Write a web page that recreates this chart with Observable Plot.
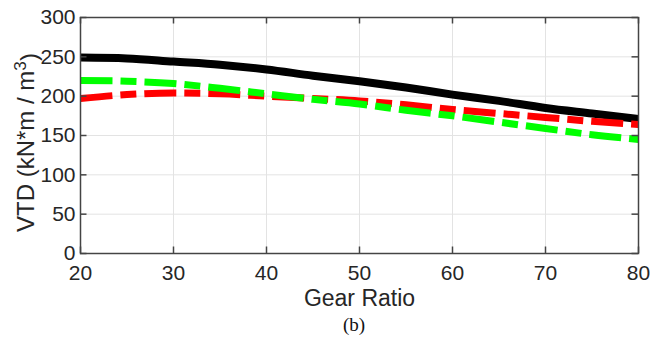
<!DOCTYPE html>
<html>
<head>
<meta charset="utf-8">
<script src="https://cdn.jsdelivr.net/npm/d3@7"></script>
<script src="https://cdn.jsdelivr.net/npm/@observablehq/plot@0.6"></script>
<style>
  html, body { margin: 0; padding: 0; background: #fff; }
  #wrap { position: relative; width: 650px; height: 338px; overflow: hidden; }
  #caption { position: absolute; top: 315px; left: 354px; transform: translateX(-50%);
    font-family: "Liberation Serif", "DejaVu Serif", serif; font-size: 19px; line-height: 20px; color: #111; white-space: nowrap; }
</style>
</head>
<body>
<div id="wrap"><div id="chart"></div><div id="caption">(b)</div></div>
<script>
// Data
const gearRatio = [20, 25, 30, 35, 40, 45, 50, 55, 60, 65, 70, 75, 80];
const vtdBlack  = [249, 248, 244, 240, 234, 226, 219, 211, 202, 194, 185, 178, 171];
const vtdRed    = [197, 202, 204, 203, 200, 197, 194, 189, 183, 178, 173, 168, 164];
const vtdGreen  = [220, 219, 216, 210, 203, 196, 190, 182, 175, 167, 159, 151, 145];
const xTicks = [20, 30, 40, 50, 60, 70, 80];
const yTicks = [0, 50, 100, 150, 200, 250, 300];
const xLabel = "Gear Ratio";
const yLabel = "VTD (kN*m / m3)";

const rows = (ys) => gearRatio.map((x, i) => ({x, y: ys[i]}));
const W = 650, H = 315;
const mL = 80, mR = 12, mT = 17, mB = H - 253;
const innerH = H - mT - mB, innerW = W - mL - mR;
const tickLen = 6.5;
const txt = "#262626";

const chart = Plot.plot({
  width: W, height: H,
  marginLeft: mL, marginRight: mR, marginTop: mT, marginBottom: mB,
  style: {fontFamily: "'Liberation Sans', Arial, sans-serif", background: "#fff", color: txt, overflow: "visible"},
  x: {domain: [20, 80]},
  y: {domain: [0, 300]},
  marks: [
    Plot.gridX(xTicks, {stroke: "#e3e3e3", strokeOpacity: 1, strokeWidth: 1}),
    Plot.gridY(yTicks, {stroke: "#e3e3e3", strokeOpacity: 1, strokeWidth: 1}),
    Plot.line(rows(vtdBlack), {x: "x", y: "y", stroke: "#000", strokeWidth: 8, curve: "monotone-x", strokeLinecap: "butt"}),
    Plot.line(rows(vtdRed), {x: "x", y: "y", stroke: "#ff0000", strokeWidth: 7, curve: "monotone-x", strokeDasharray: "32 8 16 8", strokeLinecap: "butt"}),
    Plot.line(rows(vtdGreen), {x: "x", y: "y", stroke: "#00ff00", strokeWidth: 7, curve: "monotone-x", strokeDasharray: "32 8 16 8", strokeLinecap: "butt"}),
    // inward ticks (MATLAB style) on all four sides
    Plot.tickX(xTicks, {x: d => d, stroke: "#444", strokeWidth: 1.5, insetTop: innerH - tickLen}),
    Plot.tickX(xTicks, {x: d => d, stroke: "#444", strokeWidth: 1.5, insetBottom: innerH - tickLen}),
    Plot.tickY(yTicks, {y: d => d, stroke: "#444", strokeWidth: 1.5, insetRight: innerW - tickLen}),
    Plot.tickY(yTicks, {y: d => d, stroke: "#444", strokeWidth: 1.5, insetLeft: innerW - tickLen}),
    Plot.frame({stroke: "#444", strokeWidth: 1.5}),
    Plot.axisX(xTicks, {tickSize: 0, tickPadding: 12, fontSize: 21, fill: txt, label: null}),
    Plot.axisY(yTicks, {tickSize: 0, tickPadding: 5, fontSize: 21, fill: txt, label: null}),
    Plot.text([xLabel], {frameAnchor: "bottom", textAnchor: "middle", dy: 305 - 253, lineAnchor: "bottom", fontSize: 23, fill: txt, text: d => d}),
    Plot.text([yLabel], {frameAnchor: "left", textAnchor: "middle", dx: 33 - 80, dy: 7, rotate: -90, lineAnchor: "bottom", fontSize: 24, fill: txt, text: d => d})
  ]
});
document.getElementById("chart").appendChild(chart);

// superscript for the unit in the y label
d3.select(chart).selectAll("text").each(function() {
  const t = d3.select(this);
  if (t.text() === yLabel) {
    t.text(null);
    t.append("tspan").text("VTD (kN*m / m");
    t.append("tspan").attr("dy", "-0.45em").attr("font-size", "0.72em").text("3");
    t.append("tspan").attr("dy", "0.45em").text(")");
  }
});
</script>
</body>
</html>
